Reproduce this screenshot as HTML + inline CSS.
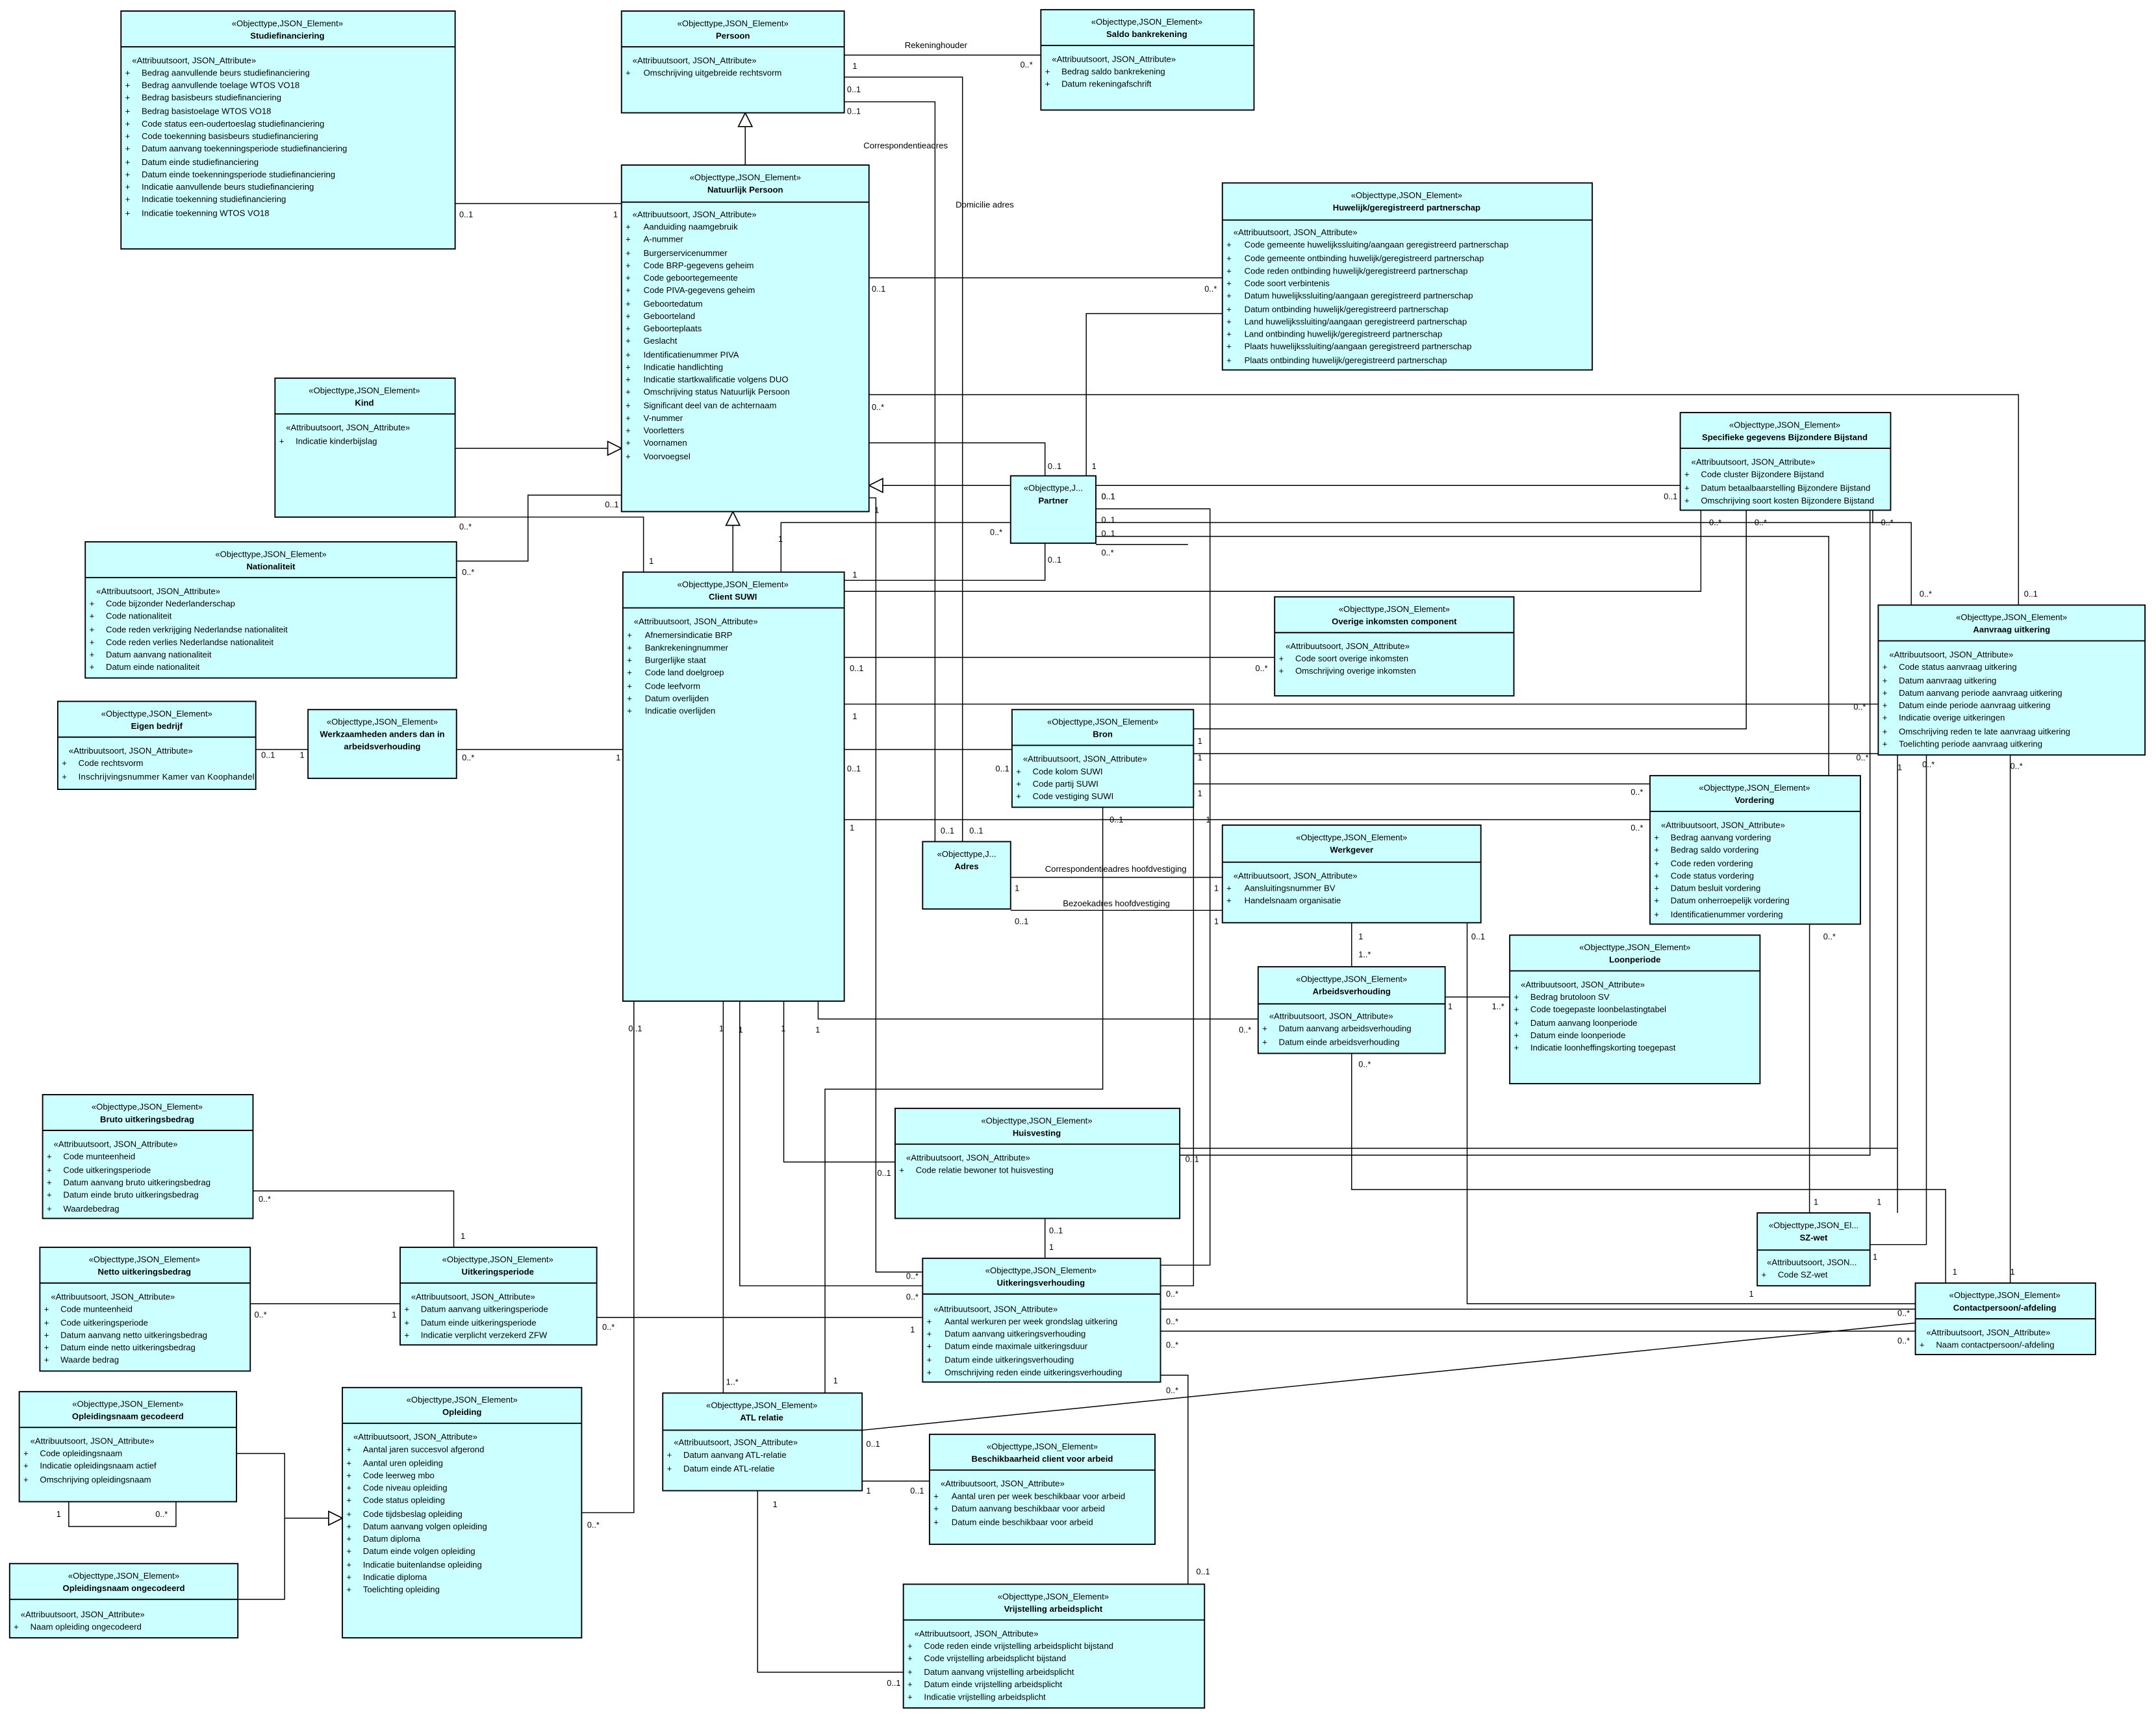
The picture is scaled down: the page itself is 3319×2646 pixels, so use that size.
<!DOCTYPE html>
<html><head><meta charset="utf-8"><style>
html,body{margin:0;padding:0;background:#fff;}
svg{display:block;}
text{font-family:"Liberation Sans",sans-serif;font-size:6.2px;fill:#000;}
.b{font-weight:bold;}
.c{text-anchor:middle;}
rect{fill:#ccffff;stroke:#000;stroke-width:0.9;}
.h{stroke:#000;stroke-width:0.9;}
.l{fill:none;stroke:#000;stroke-width:0.7;}
.t{fill:#fff;stroke:#000;stroke-width:0.8;}
.m{font-size:6px;}
</style></head><body>
<svg width="3319" height="2646" viewBox="0 0 1568 1250" xmlns="http://www.w3.org/2000/svg">
<rect x="0" y="0" width="1568" height="1250" style="fill:#fff;stroke:none"/>

<!-- ===== CONNECTORS ===== -->
<g>
<polyline class="l" points="614,40 757,40"/>
<text x="658" y="35">Rekeninghouder</text><text class="m" x="620" y="50">1</text><text class="m" x="742" y="49">0..*</text>
<polyline class="l" points="542,120 542,90"/><polygon class="t" points="542,82 537,92 547,92"/>
<polyline class="l" points="331,148 452,148"/><text class="m" x="334" y="158">0..1</text><text class="m" x="446" y="158">1</text>
<polyline class="l" points="614,56 700,56 700,612"/><text class="m" x="616" y="67">0..1</text><text x="695" y="151">Domicilie adres</text><text class="m" x="705" y="606">0..1</text>
<polyline class="l" points="614,74 680,74 680,612"/><text class="m" x="616" y="83">0..1</text><text x="628" y="108">Correspondentieadres</text><text class="m" x="684" y="606">0..1</text>
<polyline class="l" points="632,202 889,202"/><text class="m" x="634" y="212">0..1</text><text class="m" x="876" y="212">0..*</text>
<polyline class="l" points="632,287 1468,287 1468,440"/><text class="m" x="634" y="298">0..*</text><text class="m" x="1472" y="434">0..1</text>
<polyline class="l" points="632,322 760,322 760,346"/><text class="m" x="762" y="341">0..1</text>
<polyline class="l" points="790,346 790,228 889,228"/><text class="m" x="794" y="341">1</text>
<polyline class="l" points="331,326 444,326"/><polygon class="t" points="452,326 442,321 442,331"/>
<polyline class="l" points="331,376 468,376 468,416"/><text class="m" x="334" y="385">0..*</text><text class="m" x="472" y="410">1</text>
<polyline class="l" points="332,408 384,408 384,360 452,360"/><text class="m" x="336" y="418">0..*</text><text class="m" x="440" y="369">0..1</text>
<polyline class="l" points="533,416 533,382"/><polygon class="t" points="533,372 528,382 538,382"/>
<polyline class="l" points="735,353 642,353"/><polygon class="t" points="632,353 642,348 642,358"/>
<polyline class="l" points="797,353 1222,353"/><text class="m" x="801" y="363">0..1</text><text class="m" x="1210" y="363">0..1</text>
<polyline class="l" points="568,416 568,380 735,380"/><text class="m" x="566" y="394">1</text><text class="m" x="720" y="389">0..*</text>
<polyline class="l" points="632,362 637,362 637,925 671,925"/><text class="m" x="636" y="373">1</text><text class="m" x="659" y="930">0..*</text>
<polyline class="l" points="760,395 760,422 614,422"/><text class="m" x="762" y="409">0..1</text><text class="m" x="620" y="420">1</text>
<polyline class="l" points="797,370 880,370 880,920 844,920"/><text class="m" x="801" y="363">0..1</text>
<polyline class="l" points="797,380 1390,380 1390,440"/><text class="m" x="801" y="380">0..1</text><text class="m" x="1396" y="434">0..*</text>
<polyline class="l" points="797,390 1330,390 1330,568"/><text class="m" x="801" y="390">0..1</text>
<polyline class="l" points="797,396 864,396"/><text class="m" x="801" y="404">0..*</text>
<polyline class="l" points="1237,371 1237,430 614,430"/><text class="m" x="1243" y="382">0..*</text>
<polyline class="l" points="1270,371 1270,530 868,530"/><text class="m" x="1276" y="382">0..*</text>
<polyline class="l" points="1362,371 1362,380 1368,380"/><text class="m" x="1368" y="382">0..*</text>
<polyline class="l" points="1360,371 1360,840 858,840"/>
<polyline class="l" points="614,478 927,478"/><text class="m" x="618" y="488">0..1</text><text class="m" x="913" y="488">0..*</text>
<polyline class="l" points="614,512 1366,512"/><text class="m" x="620" y="523">1</text><text class="m" x="1348" y="516">0..*</text>
<polyline class="l" points="868,548 1366,548"/><text class="m" x="871" y="541">1</text><text class="m" x="871" y="553">1</text><text class="m" x="1350" y="553">0..*</text>
<polyline class="l" points="614,545 736,545"/><text class="m" x="616" y="561">0..1</text><text class="m" x="724" y="561">0..1</text>
<polyline class="l" points="868,570 1200,570"/><text class="m" x="871" y="579">1</text><text class="m" x="1186" y="578">0..*</text>
<polyline class="l" points="614,596 1200,596"/><text class="m" x="618" y="604">1</text><text class="m" x="1186" y="604">0..*</text>
<text class="m" x="807" y="598">0..1</text><text class="m" x="877" y="598">1</text>
<polyline class="l" points="802,587 802,792 600,792 600,1013"/><text class="m" x="606" y="1006">1</text>
<polyline class="l" points="868,587 868,935 844,935"/><text class="m" x="848" y="943">0..*</text>
<polyline class="l" points="332,545 453,545"/><text class="m" x="336" y="553">0..*</text><text class="m" x="448" y="553">1</text>
<polyline class="l" points="186,545 224,545"/><text class="m" x="190" y="551">0..1</text><text class="m" x="218" y="551">1</text>
<polyline class="l" points="735,638 889,638"/><text x="760" y="634">Correspondentieadres hoofdvestiging</text><text class="m" x="738" y="648">1</text><text class="m" x="883" y="648">1</text>
<polyline class="l" points="735,662 889,662"/><text x="773" y="659">Bezoekadres hoofdvestiging</text><text class="m" x="738" y="672">0..1</text><text class="m" x="883" y="672">1</text>
<polyline class="l" points="983,671 983,703"/><text class="m" x="988" y="683">1</text><text class="m" x="988" y="696">1..*</text>
<polyline class="l" points="1051,725 1098,725"/><text class="m" x="1053" y="734">1</text><text class="m" x="1085" y="734">1..*</text>
<polyline class="l" points="595,728 595,741 915,741"/><text class="m" x="593" y="751">1</text><text class="m" x="901" y="751">0..*</text>
<polyline class="l" points="983,766 983,865 1415,865 1415,933"/><text class="m" x="988" y="776">0..*</text><text class="m" x="1420" y="927">1</text>
<polyline class="l" points="1067,671 1067,948 1393,948"/><text class="m" x="1070" y="683">0..1</text><text class="m" x="1272" y="943">1</text>
<polyline class="l" points="1316,672 1316,882"/><text class="m" x="1326" y="683">0..*</text><text class="m" x="1319" y="876">1</text>
<polyline class="l" points="1380,549 1380,882"/><text class="m" x="1380" y="560">1</text><text class="m" x="1365" y="876">1</text>
<polyline class="l" points="1401,549 1401,905 1360,905"/><text class="m" x="1398" y="558">0..*</text><text class="m" x="1362" y="916">1</text>
<polyline class="l" points="1462,549 1462,933"/><text class="m" x="1462" y="559">0..*</text><text class="m" x="1462" y="927">1</text>
<polyline class="l" points="461,728 461,1100 423,1100"/><text class="m" x="457" y="750">0..1</text><text class="m" x="427" y="1111">0..*</text>
<polyline class="l" points="526,728 526,1013"/><text class="m" x="523" y="750">1</text><text class="m" x="528" y="1007">1..*</text>
<polyline class="l" points="538,728 538,935 671,935"/><text class="m" x="537" y="751">1</text><text class="m" x="659" y="945">0..*</text>
<polyline class="l" points="570,728 570,845 651,845"/><text class="m" x="568" y="750">1</text><text class="m" x="638" y="855">0..1</text>
<polyline class="l" points="858,835 1380,835"/><text class="m" x="862" y="845">0..1</text>
<polyline class="l" points="760,886 760,915"/><text class="m" x="763" y="897">0..1</text><text class="m" x="763" y="909">1</text>
<polyline class="l" points="434,958 671,958"/><text class="m" x="438" y="967">0..*</text><text class="m" x="662" y="969">1</text>
<polyline class="l" points="184,866 330,866 330,907"/><text class="m" x="188" y="874">0..*</text><text class="m" x="335" y="901">1</text>
<polyline class="l" points="182,948 291,948"/><text class="m" x="185" y="958">0..*</text><text class="m" x="285" y="958">1</text>
<polyline class="l" points="844,952 1393,952"/><text class="m" x="848" y="963">0..*</text><text class="m" x="1380" y="957">0..*</text>
<polyline class="l" points="844,968 1393,968"/><text class="m" x="848" y="980">0..*</text><text class="m" x="1380" y="977">0..*</text>
<polyline class="l" points="844,1000 864,1000 864,1152"/><text class="m" x="848" y="1013">0..*</text><text class="m" x="870" y="1145">0..1</text>
<polyline class="l" points="627,1040 1393,962"/><text class="m" x="630" y="1052">0..1</text>
<polyline class="l" points="627,1077 676,1077"/><text class="m" x="630" y="1086">1</text><text class="m" x="662" y="1086">0..1</text>
<polyline class="l" points="551,1084 551,1216 657,1216"/><text class="m" x="562" y="1096">1</text><text class="m" x="645" y="1226">0..1</text>
<polyline class="l" points="50,1092 50,1110 128,1110 128,1092"/><text class="m" x="41" y="1103">1</text><text class="m" x="113" y="1103">0..*</text>
<polyline class="l" points="172,1057 207,1057 207,1163 173,1163"/>
<polyline class="l" points="207,1104 239,1104"/><polygon class="t" points="249,1104 239,1099 239,1109"/>
</g>

<!-- ===== BOXES ===== -->
<!-- Studiefinanciering -->
<g><rect x="88" y="8" width="243" height="173"/><line class="h" x1="88" y1="34" x2="331" y2="34"/>
<text class="c" x="209" y="19">«Objecttype,JSON_Element»</text><text class="c b" x="209" y="28">Studiefinanciering</text>
<text x="96" y="46">«Attribuutsoort, JSON_Attribute»</text>
<text x="91" y="55">+</text><text x="103" y="55">Bedrag aanvullende beurs studiefinanciering</text>
<text x="91" y="64">+</text><text x="103" y="64">Bedrag aanvullende toelage WTOS VO18</text>
<text x="91" y="73">+</text><text x="103" y="73">Bedrag basisbeurs studiefinanciering</text>
<text x="91" y="83">+</text><text x="103" y="83">Bedrag basistoelage WTOS VO18</text>
<text x="91" y="92">+</text><text x="103" y="92">Code status een-oudertoeslag studiefinanciering</text>
<text x="91" y="101">+</text><text x="103" y="101">Code toekenning basisbeurs studiefinanciering</text>
<text x="91" y="110">+</text><text x="103" y="110">Datum aanvang toekenningsperiode studiefinanciering</text>
<text x="91" y="120">+</text><text x="103" y="120">Datum einde studiefinanciering</text>
<text x="91" y="129">+</text><text x="103" y="129">Datum einde toekenningsperiode studiefinanciering</text>
<text x="91" y="138">+</text><text x="103" y="138">Indicatie aanvullende beurs studiefinanciering</text>
<text x="91" y="147">+</text><text x="103" y="147">Indicatie toekenning studiefinanciering</text>
<text x="91" y="157">+</text><text x="103" y="157">Indicatie toekenning WTOS VO18</text></g>

<!-- Persoon -->
<g><rect x="452" y="8" width="162" height="74"/><line class="h" x1="452" y1="34" x2="614" y2="34"/>
<text class="c" x="533" y="19">«Objecttype,JSON_Element»</text><text class="c b" x="533" y="28">Persoon</text>
<text x="460" y="46">«Attribuutsoort, JSON_Attribute»</text>
<text x="455" y="55">+</text><text x="468" y="55">Omschrijving uitgebreide rechtsvorm</text></g>

<!-- Saldo bankrekening -->
<g><rect x="757" y="7" width="155" height="73"/><line class="h" x1="757" y1="33" x2="912" y2="33"/>
<text class="c" x="834" y="18">«Objecttype,JSON_Element»</text><text class="c b" x="834" y="27">Saldo bankrekening</text>
<text x="765" y="45">«Attribuutsoort, JSON_Attribute»</text>
<text x="760" y="54">+</text><text x="772" y="54">Bedrag saldo bankrekening</text>
<text x="760" y="63">+</text><text x="772" y="63">Datum rekeningafschrift</text></g>

<!-- Natuurlijk Persoon -->
<g><rect x="452" y="120" width="180" height="252"/><line class="h" x1="452" y1="147" x2="632" y2="147"/>
<text class="c" x="542" y="131">«Objecttype,JSON_Element»</text><text class="c b" x="542" y="140">Natuurlijk Persoon</text>
<text x="460" y="158">«Attribuutsoort, JSON_Attribute»</text>
<text x="455" y="167">+</text><text x="468" y="167">Aanduiding naamgebruik</text>
<text x="455" y="176">+</text><text x="468" y="176">A-nummer</text>
<text x="455" y="186">+</text><text x="468" y="186">Burgerservicenummer</text>
<text x="455" y="195">+</text><text x="468" y="195">Code BRP-gegevens geheim</text>
<text x="455" y="204">+</text><text x="468" y="204">Code geboortegemeente</text>
<text x="455" y="213">+</text><text x="468" y="213">Code PIVA-gegevens geheim</text>
<text x="455" y="223">+</text><text x="468" y="223">Geboortedatum</text>
<text x="455" y="232">+</text><text x="468" y="232">Geboorteland</text>
<text x="455" y="241">+</text><text x="468" y="241">Geboorteplaats</text>
<text x="455" y="250">+</text><text x="468" y="250">Geslacht</text>
<text x="455" y="260">+</text><text x="468" y="260">Identificatienummer PIVA</text>
<text x="455" y="269">+</text><text x="468" y="269">Indicatie handlichting</text>
<text x="455" y="278">+</text><text x="468" y="278">Indicatie startkwalificatie volgens DUO</text>
<text x="455" y="287">+</text><text x="468" y="287">Omschrijving status Natuurlijk Persoon</text>
<text x="455" y="297">+</text><text x="468" y="297">Significant deel van de achternaam</text>
<text x="455" y="306">+</text><text x="468" y="306">V-nummer</text>
<text x="455" y="315">+</text><text x="468" y="315">Voorletters</text>
<text x="455" y="324">+</text><text x="468" y="324">Voornamen</text>
<text x="455" y="334">+</text><text x="468" y="334">Voorvoegsel</text></g>

<!-- Huwelijk -->
<g><rect x="889" y="133" width="269" height="136"/><line class="h" x1="889" y1="160" x2="1158" y2="160"/>
<text class="c" x="1023" y="144">«Objecttype,JSON_Element»</text><text class="c b" x="1023" y="153">Huwelijk/geregistreerd partnerschap</text>
<text x="897" y="171">«Attribuutsoort, JSON_Attribute»</text>
<text x="892" y="180">+</text><text x="905" y="180">Code gemeente huwelijkssluiting/aangaan geregistreerd partnerschap</text>
<text x="892" y="190">+</text><text x="905" y="190">Code gemeente ontbinding huwelijk/geregistreerd partnerschap</text>
<text x="892" y="199">+</text><text x="905" y="199">Code reden ontbinding huwelijk/geregistreerd partnerschap</text>
<text x="892" y="208">+</text><text x="905" y="208">Code soort verbintenis</text>
<text x="892" y="217">+</text><text x="905" y="217">Datum huwelijkssluiting/aangaan geregistreerd partnerschap</text>
<text x="892" y="227">+</text><text x="905" y="227">Datum ontbinding huwelijk/geregistreerd partnerschap</text>
<text x="892" y="236">+</text><text x="905" y="236">Land huwelijkssluiting/aangaan geregistreerd partnerschap</text>
<text x="892" y="245">+</text><text x="905" y="245">Land ontbinding huwelijk/geregistreerd partnerschap</text>
<text x="892" y="254">+</text><text x="905" y="254">Plaats huwelijkssluiting/aangaan geregistreerd partnerschap</text>
<text x="892" y="264">+</text><text x="905" y="264">Plaats ontbinding huwelijk/geregistreerd partnerschap</text></g>

<!-- Kind -->
<g><rect x="200" y="275" width="131" height="101"/><line class="h" x1="200" y1="301" x2="331" y2="301"/>
<text class="c" x="265" y="286">«Objecttype,JSON_Element»</text><text class="c b" x="265" y="295">Kind</text>
<text x="208" y="313">«Attribuutsoort, JSON_Attribute»</text>
<text x="203" y="323">+</text><text x="215" y="323">Indicatie kinderbijslag</text></g>

<!-- Nationaliteit -->
<g><rect x="62" y="394" width="270" height="99"/><line class="h" x1="62" y1="420" x2="332" y2="420"/>
<text class="c" x="197" y="405">«Objecttype,JSON_Element»</text><text class="c b" x="197" y="414">Nationaliteit</text>
<text x="70" y="432">«Attribuutsoort, JSON_Attribute»</text>
<text x="65" y="441">+</text><text x="77" y="441">Code bijzonder Nederlanderschap</text>
<text x="65" y="450">+</text><text x="77" y="450">Code nationaliteit</text>
<text x="65" y="460">+</text><text x="77" y="460">Code reden verkrijging Nederlandse nationaliteit</text>
<text x="65" y="469">+</text><text x="77" y="469">Code reden verlies Nederlandse nationaliteit</text>
<text x="65" y="478">+</text><text x="77" y="478">Datum aanvang nationaliteit</text>
<text x="65" y="487">+</text><text x="77" y="487">Datum einde nationaliteit</text></g>

<!-- Specifieke gegevens Bijzondere Bijstand -->
<g><rect x="1222" y="300" width="153" height="71"/><line class="h" x1="1222" y1="326" x2="1375" y2="326"/>
<text class="c" x="1298" y="311">«Objecttype,JSON_Element»</text><text class="c b" x="1298" y="320">Specifieke gegevens Bijzondere Bijstand</text>
<text x="1230" y="338">«Attribuutsoort, JSON_Attribute»</text>
<text x="1225" y="347">+</text><text x="1237" y="347">Code cluster Bijzondere Bijstand</text>
<text x="1225" y="357">+</text><text x="1237" y="357">Datum betaalbaarstelling Bijzondere Bijstand</text>
<text x="1225" y="366">+</text><text x="1237" y="366">Omschrijving soort kosten Bijzondere Bijstand</text></g>

<!-- Partner -->
<g><rect x="735" y="346" width="62" height="49"/>
<text class="c" x="766" y="357">«Objecttype,J...</text><text class="c b" x="766" y="366">Partner</text></g>

<!-- Client SUWI -->
<g><rect x="453" y="416" width="161" height="312"/><line class="h" x1="453" y1="442" x2="614" y2="442"/>
<text class="c" x="533" y="427">«Objecttype,JSON_Element»</text><text class="c b" x="533" y="436">Client SUWI</text>
<text x="461" y="454">«Attribuutsoort, JSON_Attribute»</text>
<text x="456" y="464">+</text><text x="469" y="464">Afnemersindicatie BRP</text>
<text x="456" y="473">+</text><text x="469" y="473">Bankrekeningnummer</text>
<text x="456" y="482">+</text><text x="469" y="482">Burgerlijke staat</text>
<text x="456" y="491">+</text><text x="469" y="491">Code land doelgroep</text>
<text x="456" y="501">+</text><text x="469" y="501">Code leefvorm</text>
<text x="456" y="510">+</text><text x="469" y="510">Datum overlijden</text>
<text x="456" y="519">+</text><text x="469" y="519">Indicatie overlijden</text></g>

<!-- Overige inkomsten component -->
<g><rect x="927" y="434" width="174" height="72"/><line class="h" x1="927" y1="460" x2="1101" y2="460"/>
<text class="c" x="1014" y="445">«Objecttype,JSON_Element»</text><text class="c b" x="1014" y="454">Overige inkomsten component</text>
<text x="935" y="472">«Attribuutsoort, JSON_Attribute»</text>
<text x="930" y="481">+</text><text x="942" y="481">Code soort overige inkomsten</text>
<text x="930" y="490">+</text><text x="942" y="490">Omschrijving overige inkomsten</text></g>

<!-- Aanvraag uitkering -->
<g><rect x="1366" y="440" width="194" height="109"/><line class="h" x1="1366" y1="466" x2="1560" y2="466"/>
<text class="c" x="1463" y="451">«Objecttype,JSON_Element»</text><text class="c b" x="1463" y="460">Aanvraag uitkering</text>
<text x="1374" y="478">«Attribuutsoort, JSON_Attribute»</text>
<text x="1369" y="487">+</text><text x="1381" y="487">Code status aanvraag uitkering</text>
<text x="1369" y="497">+</text><text x="1381" y="497">Datum aanvraag uitkering</text>
<text x="1369" y="506">+</text><text x="1381" y="506">Datum aanvang periode aanvraag uitkering</text>
<text x="1369" y="515">+</text><text x="1381" y="515">Datum einde periode aanvraag uitkering</text>
<text x="1369" y="524">+</text><text x="1381" y="524">Indicatie overige uitkeringen</text>
<text x="1369" y="534">+</text><text x="1381" y="534">Omschrijving reden te late aanvraag uitkering</text>
<text x="1369" y="543">+</text><text x="1381" y="543">Toelichting periode aanvraag uitkering</text></g>

<!-- Eigen bedrijf -->
<g><rect x="42" y="510" width="144" height="64"/><line class="h" x1="42" y1="536" x2="186" y2="536"/>
<text class="c" x="114" y="521">«Objecttype,JSON_Element»</text><text class="c b" x="114" y="530">Eigen bedrijf</text>
<text x="50" y="548">«Attribuutsoort, JSON_Attribute»</text>
<text x="45" y="557">+</text><text x="57" y="557">Code rechtsvorm</text>
<text x="45" y="567">+</text><text x="57" y="567" textLength="128">Inschrijvingsnummer Kamer van Koophandel</text></g>

<!-- Werkzaamheden -->
<g><rect x="224" y="516" width="108" height="50"/>
<text class="c" x="278" y="527">«Objecttype,JSON_Element»</text><text class="c b" x="278" y="536">Werkzaamheden anders dan in</text><text class="c b" x="278" y="545">arbeidsverhouding</text></g>

<!-- Bron -->
<g><rect x="736" y="516" width="132" height="71"/><line class="h" x1="736" y1="542" x2="868" y2="542"/>
<text class="c" x="802" y="527">«Objecttype,JSON_Element»</text><text class="c b" x="802" y="536">Bron</text>
<text x="744" y="554">«Attribuutsoort, JSON_Attribute»</text>
<text x="739" y="563">+</text><text x="751" y="563">Code kolom SUWI</text>
<text x="739" y="572">+</text><text x="751" y="572">Code partij SUWI</text>
<text x="739" y="581">+</text><text x="751" y="581">Code vestiging SUWI</text></g>

<!-- Vordering -->
<g><rect x="1200" y="564" width="153" height="108"/><line class="h" x1="1200" y1="590" x2="1353" y2="590"/>
<text class="c" x="1276" y="575">«Objecttype,JSON_Element»</text><text class="c b" x="1276" y="584">Vordering</text>
<text x="1208" y="602">«Attribuutsoort, JSON_Attribute»</text>
<text x="1203" y="611">+</text><text x="1215" y="611">Bedrag aanvang vordering</text>
<text x="1203" y="620">+</text><text x="1215" y="620">Bedrag saldo vordering</text>
<text x="1203" y="630">+</text><text x="1215" y="630">Code reden vordering</text>
<text x="1203" y="639">+</text><text x="1215" y="639">Code status vordering</text>
<text x="1203" y="648">+</text><text x="1215" y="648">Datum besluit vordering</text>
<text x="1203" y="657">+</text><text x="1215" y="657">Datum onherroepelijk vordering</text>
<text x="1203" y="667">+</text><text x="1215" y="667">Identificatienummer vordering</text></g>

<!-- Werkgever -->
<g><rect x="889" y="600" width="188" height="71"/><line class="h" x1="889" y1="627" x2="1077" y2="627"/>
<text class="c" x="983" y="611">«Objecttype,JSON_Element»</text><text class="c b" x="983" y="620">Werkgever</text>
<text x="897" y="639">«Attribuutsoort, JSON_Attribute»</text>
<text x="892" y="648">+</text><text x="905" y="648">Aansluitingsnummer BV</text>
<text x="892" y="657">+</text><text x="905" y="657">Handelsnaam organisatie</text></g>

<!-- Adres -->
<g><rect x="671" y="612" width="64" height="49"/>
<text class="c" x="703" y="623">«Objecttype,J...</text><text class="c b" x="703" y="632">Adres</text></g>

<!-- Loonperiode -->
<g><rect x="1098" y="680" width="182" height="108"/><line class="h" x1="1098" y1="706" x2="1280" y2="706"/>
<text class="c" x="1189" y="691">«Objecttype,JSON_Element»</text><text class="c b" x="1189" y="700">Loonperiode</text>
<text x="1106" y="718">«Attribuutsoort, JSON_Attribute»</text>
<text x="1101" y="727">+</text><text x="1113" y="727">Bedrag brutoloon SV</text>
<text x="1101" y="736">+</text><text x="1113" y="736">Code toegepaste loonbelastingtabel</text>
<text x="1101" y="746">+</text><text x="1113" y="746">Datum aanvang loonperiode</text>
<text x="1101" y="755">+</text><text x="1113" y="755">Datum einde loonperiode</text>
<text x="1101" y="764">+</text><text x="1113" y="764">Indicatie loonheffingskorting toegepast</text></g>

<!-- Arbeidsverhouding -->
<g><rect x="915" y="703" width="136" height="63"/><line class="h" x1="915" y1="730" x2="1051" y2="730"/>
<text class="c" x="983" y="714">«Objecttype,JSON_Element»</text><text class="c b" x="983" y="723">Arbeidsverhouding</text>
<text x="923" y="741">«Attribuutsoort, JSON_Attribute»</text>
<text x="918" y="750">+</text><text x="930" y="750">Datum aanvang arbeidsverhouding</text>
<text x="918" y="760">+</text><text x="930" y="760">Datum einde arbeidsverhouding</text></g>

<!-- Bruto uitkeringsbedrag -->
<g><rect x="31" y="796" width="153" height="90"/><line class="h" x1="31" y1="822" x2="184" y2="822"/>
<text class="c" x="107" y="807">«Objecttype,JSON_Element»</text><text class="c b" x="107" y="816">Bruto uitkeringsbedrag</text>
<text x="39" y="834">«Attribuutsoort, JSON_Attribute»</text>
<text x="34" y="843">+</text><text x="46" y="843">Code munteenheid</text>
<text x="34" y="853">+</text><text x="46" y="853">Code uitkeringsperiode</text>
<text x="34" y="862">+</text><text x="46" y="862">Datum aanvang bruto uitkeringsbedrag</text>
<text x="34" y="871">+</text><text x="46" y="871">Datum einde bruto uitkeringsbedrag</text>
<text x="34" y="881">+</text><text x="46" y="881">Waardebedrag</text></g>

<!-- Huisvesting -->
<g><rect x="651" y="806" width="207" height="80"/><line class="h" x1="651" y1="832" x2="858" y2="832"/>
<text class="c" x="754" y="817">«Objecttype,JSON_Element»</text><text class="c b" x="754" y="826">Huisvesting</text>
<text x="659" y="844">«Attribuutsoort, JSON_Attribute»</text>
<text x="654" y="853">+</text><text x="666" y="853">Code relatie bewoner tot huisvesting</text></g>

<!-- Netto uitkeringsbedrag -->
<g><rect x="29" y="907" width="153" height="90"/><line class="h" x1="29" y1="933" x2="182" y2="933"/>
<text class="c" x="105" y="918">«Objecttype,JSON_Element»</text><text class="c b" x="105" y="927">Netto uitkeringsbedrag</text>
<text x="37" y="945">«Attribuutsoort, JSON_Attribute»</text>
<text x="32" y="954">+</text><text x="44" y="954">Code munteenheid</text>
<text x="32" y="964">+</text><text x="44" y="964">Code uitkeringsperiode</text>
<text x="32" y="973">+</text><text x="44" y="973">Datum aanvang netto uitkeringsbedrag</text>
<text x="32" y="982">+</text><text x="44" y="982">Datum einde netto uitkeringsbedrag</text>
<text x="32" y="991">+</text><text x="44" y="991">Waarde bedrag</text></g>

<!-- Uitkeringsperiode -->
<g><rect x="291" y="907" width="143" height="71"/><line class="h" x1="291" y1="933" x2="434" y2="933"/>
<text class="c" x="362" y="918">«Objecttype,JSON_Element»</text><text class="c b" x="362" y="927">Uitkeringsperiode</text>
<text x="299" y="945">«Attribuutsoort, JSON_Attribute»</text>
<text x="294" y="954">+</text><text x="306" y="954">Datum aanvang uitkeringsperiode</text>
<text x="294" y="964">+</text><text x="306" y="964">Datum einde uitkeringsperiode</text>
<text x="294" y="973">+</text><text x="306" y="973">Indicatie verplicht verzekerd ZFW</text></g>

<!-- SZ-wet -->
<g><rect x="1278" y="882" width="82" height="53"/><line class="h" x1="1278" y1="909" x2="1360" y2="909"/>
<text class="c" x="1319" y="893">«Objecttype,JSON_El...</text><text class="c b" x="1319" y="902">SZ-wet</text>
<text x="1285" y="920">«Attribuutsoort, JSON...</text>
<text x="1281" y="929">+</text><text x="1293" y="929">Code SZ-wet</text></g>

<!-- Uitkeringsverhouding -->
<g><rect x="671" y="915" width="173" height="90"/><line class="h" x1="671" y1="941" x2="844" y2="941"/>
<text class="c" x="757" y="926">«Objecttype,JSON_Element»</text><text class="c b" x="757" y="935">Uitkeringsverhouding</text>
<text x="679" y="954">«Attribuutsoort, JSON_Attribute»</text>
<text x="674" y="963">+</text><text x="687" y="963">Aantal werkuren per week grondslag uitkering</text>
<text x="674" y="972">+</text><text x="687" y="972">Datum aanvang uitkeringsverhouding</text>
<text x="674" y="981">+</text><text x="687" y="981">Datum einde maximale uitkeringsduur</text>
<text x="674" y="991">+</text><text x="687" y="991">Datum einde uitkeringsverhouding</text>
<text x="674" y="1000">+</text><text x="687" y="1000">Omschrijving reden einde uitkeringsverhouding</text></g>

<!-- Contactpersoon -->
<g><rect x="1393" y="933" width="131" height="52"/><line class="h" x1="1393" y1="959" x2="1524" y2="959"/>
<text class="c" x="1458" y="944">«Objecttype,JSON_Element»</text><text class="c b" x="1458" y="953">Contactpersoon/-afdeling</text>
<text x="1401" y="971">«Attribuutsoort, JSON_Attribute»</text>
<text x="1396" y="980">+</text><text x="1408" y="980">Naam contactpersoon/-afdeling</text></g>

<!-- Opleidingsnaam gecodeerd -->
<g><rect x="14" y="1012" width="158" height="80"/><line class="h" x1="14" y1="1038" x2="172" y2="1038"/>
<text class="c" x="93" y="1023">«Objecttype,JSON_Element»</text><text class="c b" x="93" y="1032">Opleidingsnaam gecodeerd</text>
<text x="22" y="1050">«Attribuutsoort, JSON_Attribute»</text>
<text x="17" y="1059">+</text><text x="29" y="1059">Code opleidingsnaam</text>
<text x="17" y="1068">+</text><text x="29" y="1068">Indicatie opleidingsnaam actief</text>
<text x="17" y="1078">+</text><text x="29" y="1078">Omschrijving opleidingsnaam</text></g>

<!-- Opleiding -->
<g><rect x="249" y="1009" width="174" height="182"/><line class="h" x1="249" y1="1035" x2="423" y2="1035"/>
<text class="c" x="336" y="1020">«Objecttype,JSON_Element»</text><text class="c b" x="336" y="1029">Opleiding</text>
<text x="257" y="1047">«Attribuutsoort, JSON_Attribute»</text>
<text x="252" y="1056">+</text><text x="264" y="1056">Aantal jaren succesvol afgerond</text>
<text x="252" y="1066">+</text><text x="264" y="1066">Aantal uren opleiding</text>
<text x="252" y="1075">+</text><text x="264" y="1075">Code leerweg mbo</text>
<text x="252" y="1084">+</text><text x="264" y="1084">Code niveau opleiding</text>
<text x="252" y="1093">+</text><text x="264" y="1093">Code status opleiding</text>
<text x="252" y="1103">+</text><text x="264" y="1103">Code tijdsbeslag opleiding</text>
<text x="252" y="1112">+</text><text x="264" y="1112">Datum aanvang volgen opleiding</text>
<text x="252" y="1121">+</text><text x="264" y="1121">Datum diploma</text>
<text x="252" y="1130">+</text><text x="264" y="1130">Datum einde volgen opleiding</text>
<text x="252" y="1140">+</text><text x="264" y="1140">Indicatie buitenlandse opleiding</text>
<text x="252" y="1149">+</text><text x="264" y="1149">Indicatie diploma</text>
<text x="252" y="1158">+</text><text x="264" y="1158">Toelichting opleiding</text></g>

<!-- ATL relatie -->
<g><rect x="482" y="1013" width="145" height="71"/><line class="h" x1="482" y1="1040" x2="627" y2="1040"/>
<text class="c" x="554" y="1024">«Objecttype,JSON_Element»</text><text class="c b" x="554" y="1033">ATL relatie</text>
<text x="490" y="1051">«Attribuutsoort, JSON_Attribute»</text>
<text x="485" y="1060">+</text><text x="497" y="1060">Datum aanvang ATL-relatie</text>
<text x="485" y="1070">+</text><text x="497" y="1070">Datum einde ATL-relatie</text></g>

<!-- Beschikbaarheid -->
<g><rect x="676" y="1043" width="164" height="80"/><line class="h" x1="676" y1="1069" x2="840" y2="1069"/>
<text class="c" x="758" y="1054">«Objecttype,JSON_Element»</text><text class="c b" x="758" y="1063">Beschikbaarheid client voor arbeid</text>
<text x="684" y="1081">«Attribuutsoort, JSON_Attribute»</text>
<text x="679" y="1090">+</text><text x="692" y="1090">Aantal uren per week beschikbaar voor arbeid</text>
<text x="679" y="1099">+</text><text x="692" y="1099">Datum aanvang beschikbaar voor arbeid</text>
<text x="679" y="1109">+</text><text x="692" y="1109">Datum einde beschikbaar voor arbeid</text></g>

<!-- Opleidingsnaam ongecodeerd -->
<g><rect x="7" y="1137" width="166" height="54"/><line class="h" x1="7" y1="1163" x2="173" y2="1163"/>
<text class="c" x="90" y="1148">«Objecttype,JSON_Element»</text><text class="c b" x="90" y="1157">Opleidingsnaam ongecodeerd</text>
<text x="15" y="1176">«Attribuutsoort, JSON_Attribute»</text>
<text x="10" y="1185">+</text><text x="22" y="1185">Naam opleiding ongecodeerd</text></g>

<!-- Vrijstelling arbeidsplicht -->
<g><rect x="657" y="1152" width="219" height="90"/><line class="h" x1="657" y1="1178" x2="876" y2="1178"/>
<text class="c" x="766" y="1163">«Objecttype,JSON_Element»</text><text class="c b" x="766" y="1172">Vrijstelling arbeidsplicht</text>
<text x="665" y="1190">«Attribuutsoort, JSON_Attribute»</text>
<text x="660" y="1199">+</text><text x="672" y="1199">Code reden einde vrijstelling arbeidsplicht bijstand</text>
<text x="660" y="1208">+</text><text x="672" y="1208">Code vrijstelling arbeidsplicht bijstand</text>
<text x="660" y="1218">+</text><text x="672" y="1218">Datum aanvang vrijstelling arbeidsplicht</text>
<text x="660" y="1227">+</text><text x="672" y="1227">Datum einde vrijstelling arbeidsplicht</text>
<text x="660" y="1236">+</text><text x="672" y="1236">Indicatie vrijstelling arbeidsplicht</text></g>
</svg>
</body></html>
